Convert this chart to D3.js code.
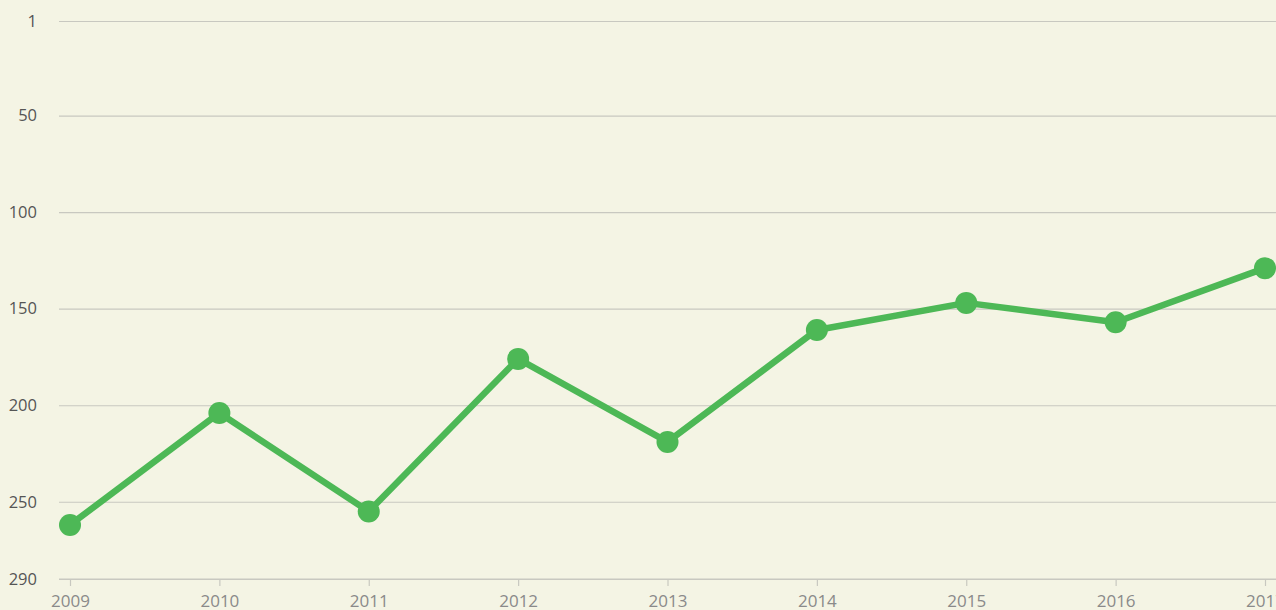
<!DOCTYPE html>
<html>
<head>
<meta charset="utf-8">
<script src="https://cdn.jsdelivr.net/npm/d3@7"></script>
<style>
  body { margin: 0; background: #f4f4e4; overflow: hidden; }
  svg { display: block; }
</style>
</head>
<body>
<svg id="chart"></svg>
<script>
const width = 1276;
const height = 610;

const years = ['2009', '2010', '2011', '2012', '2013', '2014', '2015', '2016', '2017'];
const ranks = [262, 204, 255, 176, 219, 161, 147, 157, 129];
const yTicks = [1, 50, 100, 150, 200, 250, 290];

const svg = d3.select('#chart')
    .attr('width', width)
    .attr('height', height);

const x = d3.scalePoint().domain(years).range([70, 1265]);
const y = d3.scaleLinear().domain([1, 290]).range([21, 579]);

// grid + y labels
const yAxis = svg.append('g').attr('transform', 'translate(59, 0)')
    .call(d3.axisLeft(y).tickValues(yTicks).tickSize(-(width - 59)).tickPadding(22).tickFormat(d3.format('d')));
yAxis.attr('font-family', '"Open Sans", sans-serif').attr('font-size', 16.5);
yAxis.select('.domain').remove();
yAxis.selectAll('.tick line').attr('stroke', '#c8c8c0').attr('stroke-width', 1.2);
yAxis.selectAll('.tick text').attr('fill', '#555');

// x axis
const xAxis = svg.append('g').attr('transform', 'translate(0, 579)')
    .call(d3.axisBottom(x).tickSize(7).tickPadding(9));
xAxis.attr('font-family', '"Open Sans", sans-serif').attr('font-size', 17);
xAxis.select('.domain').attr('stroke', '#c8c8c0').attr('stroke-width', 1.2).attr('d', `M59,0H${width}`);
xAxis.selectAll('.tick line').attr('stroke', '#c8c8c0').attr('stroke-width', 1.2);
xAxis.selectAll('.tick text').attr('fill', '#8a8a8a');

const data = years.map((yr, i) => ({year: yr, rank: ranks[i]}));

svg.append('path').datum(data)
    .attr('fill', 'none')
    .attr('stroke', '#4db856')
    .attr('stroke-width', 6.5)
    .attr('stroke-linejoin', 'round')
    .attr('d', d3.line().x(d => x(d.year)).y(d => y(d.rank)));

svg.selectAll('circle.dot').data(data).enter().append('circle')
    .attr('class', 'dot')
    .attr('cx', d => x(d.year))
    .attr('cy', d => y(d.rank))
    .attr('r', 11)
    .attr('fill', '#4db856');
</script>
</body>
</html>
